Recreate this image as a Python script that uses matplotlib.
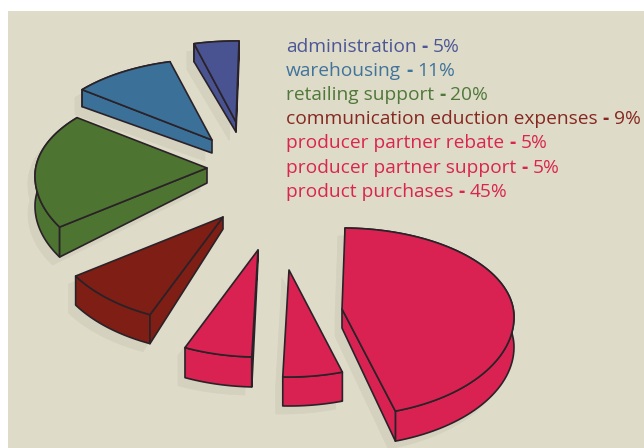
"""
Exploded pseudo-3D pie, drawn by hand with polygons in pixel coordinates.
Slices go clockwise from the top, starting at product purchases.
"""

import numpy as np
import matplotlib
matplotlib.use("Agg")
import matplotlib.pyplot as plt
from matplotlib.patches import Polygon, Rectangle
from matplotlib.path import Path

# ---------------------------------------------------------------------------
# Data
# ---------------------------------------------------------------------------
legend_names = ["administration", "warehousing", "retailing support",
                "communication eduction expenses", "producer partner rebate",
                "producer partner support", "product purchases"]
legend_pct = [5, 11, 20, 9, 5, 5, 45]

# wedge sizes as drawn in the picture (%), same order as the legend
drawn_pct = [4.2, 9.7, 20.0, 9.4, 6.4, 5.6, 44.7]

# ---------------------------------------------------------------------------
# Layout and style
# ---------------------------------------------------------------------------
legend_colors = ["#4c5796", "#40749b", "#4f7839", "#862820", "#d9254f", "#d9254f", "#d9254f"]
slice_colors = ["#4a5391", "#3b7099", "#4d7431", "#7f1e14", "#d92252", "#d92252", "#d92252"]
apex_xy = [(236, 122), (212, 140), (207, 168), (223, 217), (258, 250), (289, 270), (342, 309)]
depth_apex = [10, 13, 15, 12, 10, 10, 19]
depth_rim = [18, 17, 30, 29, 30, 29, 30]

RX, RY_UP, RY_DOWN = 172, 89, 99
CENTER_DROP = 8
START_DEG = 89
BG = "#dfdbc9"
SHADOW = "#d5d1bf"
EDGE = "#2a2228"


def slice_outline(apex, a0, a1):
    """Top face: apex then rim from angle a0 clockwise to a1."""
    t = np.radians(np.linspace(a0, a1, 80))
    ry = np.where(np.sin(t) > 0, RY_UP, RY_DOWN)
    x = apex[0] + RX * np.cos(t)
    y = apex[1] + CENTER_DROP - ry * np.sin(t)
    return np.vstack([apex, np.column_stack([x, y])])


def wall_polys(pts, d_apex, d_rim):
    """Rim wall plus whichever cut faces are not hidden under the top face."""
    low = pts + np.column_stack([np.zeros(len(pts)), np.r_[d_apex, np.full(len(pts) - 1, d_rim)]])
    top = Path(pts)
    walls = [np.vstack([pts[1:], low[1:][::-1]])]
    for k in (1, -1):
        if not top.contains_point((low[0] + low[k]) / 2):
            walls.append(np.vstack([pts[0], pts[k], low[k], low[0]]))
    return walls


def put_text(ax, x, y, s, color, weight="normal"):
    t = ax.text(x, y, s, color=color, family="Open Sans", fontsize=13.8,
                fontweight=weight, va="baseline", ha="left", zorder=6)
    bb = t.get_window_extent(fig.canvas.get_renderer())
    return bb.x1


fig = plt.figure(figsize=(6.44, 4.48), dpi=100, facecolor="white")
ax = fig.add_axes([0, 0, 1, 1])
ax.set_xlim(0, 644)
ax.set_ylim(448, 0)
ax.axis("off")
ax.add_patch(Rectangle((8, 11), 636, 437, fc=BG, ec="none", zorder=0))

# legend is listed counter-clockwise, so walk it backwards
angle = START_DEG
for i in range(len(drawn_pct) - 1, -1, -1):
    sweep = drawn_pct[i] * 3.6
    pts = slice_outline(apex_xy[i], angle, angle - sweep)
    angle -= sweep
    walls = wall_polys(pts, depth_apex[i], depth_rim[i])

    # shadow, offset to lower left
    for poly in walls + [pts]:
        ax.add_patch(Polygon(poly + np.array([-7, 8]), closed=True, fc=SHADOW,
                             ec=SHADOW, lw=0.5, zorder=1))

    # walls with outline; their hidden edges end up under the top face
    for poly in walls:
        ax.add_patch(Polygon(poly, closed=True, fc=slice_colors[i], ec=EDGE,
                             lw=1.2, joinstyle="round", zorder=3))
    ax.add_patch(Polygon(pts, closed=True, fc=slice_colors[i], ec=EDGE, lw=1.2,
                         joinstyle="round", zorder=4))

# ---------------------------------------------------------------------------
# Legend text
# ---------------------------------------------------------------------------
for k, (name, pct) in enumerate(zip(legend_names, legend_pct)):
    y = 51.7 + 24.2 * k
    x = put_text(ax, 286, y, name, legend_colors[k])
    x = put_text(ax, x + 5, y, "-", legend_colors[k], weight="bold")
    put_text(ax, x + 5, y, f"{pct}%", legend_colors[k])

fig.savefig("out.png", dpi=100, facecolor=fig.get_facecolor())
